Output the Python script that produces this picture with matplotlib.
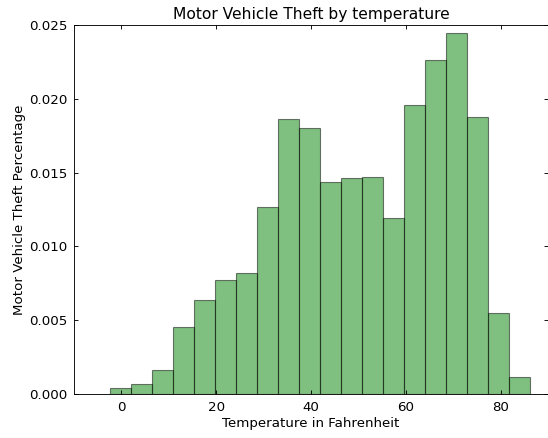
import numpy as np
import matplotlib
matplotlib.use("Agg")
import matplotlib.pyplot as plt

# bin edges and density heights
bin_edges = np.linspace(-2.4, 86.2, 21)
densities = [0.0004, 0.0007, 0.00163, 0.00454, 0.0064, 0.0077, 0.0082,
             0.01265, 0.0186, 0.0180, 0.01433, 0.01465, 0.01473, 0.01194,
             0.01955, 0.0226, 0.02447, 0.0188, 0.0055, 0.00114]
x_ticks = [0, 20, 40, 60, 80]
y_ticks = [0.000, 0.005, 0.010, 0.015, 0.020, 0.025]

plt.rcParams['font.family'] = 'DejaVu Sans'
plt.rcParams['font.size'] = 12

fig = plt.figure(figsize=(548 / 80, 438 / 80), dpi=80)
ax = fig.add_axes([74 / 548, 44 / 438, 474 / 548, 369 / 438])

centers = 0.5 * (bin_edges[:-1] + bin_edges[1:])
ax.hist(centers, bins=bin_edges, weights=densities, color='g', alpha=0.5,
        edgecolor='k', linewidth=1)

ax.set_xlim(-10, 90)
ax.set_ylim(0, 0.025)
ax.set_xticks(x_ticks)
ax.set_yticks(y_ticks)
ax.yaxis.set_major_formatter(matplotlib.ticker.FormatStrFormatter('%.3f'))
ax.tick_params(direction='in', top=True, right=True, length=4, labelsize=12, pad=6)

ax.set_title("Motor Vehicle Theft by temperature", fontsize=14, pad=5)
ax.set_xlabel("Temperature in Fahrenheit", fontsize=12, labelpad=3)
ax.set_ylabel("Motor Vehicle Theft Percentage", fontsize=12, labelpad=3)

fig.savefig("out.png", dpi=80, facecolor='white')
